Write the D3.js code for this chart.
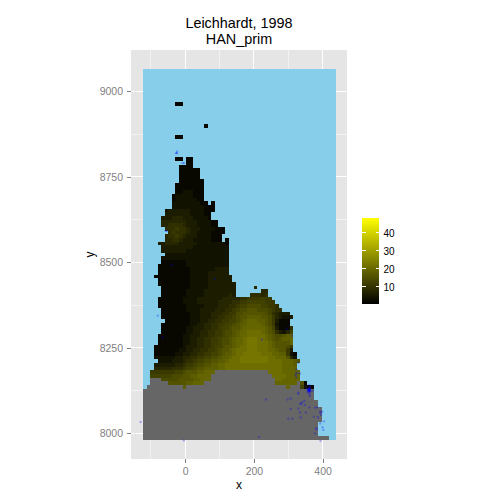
<!DOCTYPE html>
<html><head><meta charset="utf-8">
<style>html,body{margin:0;padding:0;background:#fff}svg{display:block}text{font-family:"Liberation Sans",Arial,sans-serif}</style>
<script src="https://cdn.jsdelivr.net/npm/d3@7"></script>
</head><body><svg id="c" width="500" height="500"></svg>
<script>
const titleLines = ["Leichhardt, 1998","HAN_prim"];
const xMajor=[0,200,400], xMinor=[-100,100,300];
const yMajor=[8000,8250,8500,8750,9000], yMinor=[8125,8375,8625,8875];
const legendTicks=[10,20,30,40];
const valueRange=[0.55,48.3];
const gridOrigin=[-122,9065], gridStep=[10.38,10.74], gridSize=[54,101];
// Each grid row: first land column, then cell codes: base-36 level, # = no data, . = sea
const rowData={
9:[9,"00"],15:[17,"0"],18:[9,"00"],24:[9,"00.00"],25:[12,"00"],26:[10,"0000"],
27:[10,"000000"],28:[10,"000000"],29:[10,"000000"],30:[10,"0000000"],
31:[9,"00000000"],32:[9,"00000000"],33:[9,"00111000"],34:[8,"011111000"],35:[8,"011111100"],
36:[8,"1111111100.0"],37:[8,"111111111000"],38:[6,"12222221111000"],39:[6,"2222222111100"],
40:[5,"22233322211110"],41:[5,"3333333222111100"],42:[5,"3344443222111100"],
43:[6,"44454432221111000"],44:[7,"4544432211110000"],45:[6,"3445432221111000"],46:[6,"3344322211111000.0"],
47:[4,"22333322222111111110"],48:[5,"2222222221111111111"],49:[5,"2222222111111111111"],
50:[6,"111111111111111111"],51:[5,"1111111111111111111"],52:[5,"0000000111111111111"],
53:[4,"00000000111111111111"],54:[4,"00000000011111112222"],55:[4,"00000000011111222222"],
56:[3,"0000000000111112222222"],57:[4,"000000000111112222222"],58:[4,"0000000001111122222222"],
59:[5,"000000001111122222222.....3"],60:[5,"000000011111222222222.......33"],
61:[5,"000000011111222222232....44434"],
62:[4,"00000001111222222233333445555655"],
63:[4,"000000011112222223333445566666555"],
64:[4,"0000000011111222233344566777766554"],
65:[5,"0000000111122223334456778887776544"],
66:[5,"000000001112223334455778888887643222"],
67:[5,"0000000011122233445567889999887532112"],
68:[6,"00000001112233445566789aaa998752000"],
69:[5,"000000001122334455667899aaaa98751000"],
70:[5,"00000001122233445667889aaaaaa98620004"],
71:[5,"0000000112233445567789aabbbba98742136"],
72:[4,"00000001122233445567789aabbbbba987789a"],
73:[4,"0000000112233445567789aabcccbba987899a"],
74:[4,"0000000112233445567789aabcccbbba98888a"],
75:[3,"00000000122233445667889abbcccbbba988875"],
76:[3,"0000000112233445567889abbbcccbbbaa98852"],
77:[3,"0000001122334455667899abbcccccbbbaa99510"],
78:[3,"111111223344556677899abbccccccccbbaaa831"],
79:[4,"1111222344566778899abbbccccccccbbbbaaa98"],
80:[3,"222222334556778899aabbbbbbbbbbbbbbbbaaa9"],
81:[3,"333334445667889999aabbbbbbbbbbbbbbbbaaaa"],
82:[2,"555555566788899aaa###############bbbbaaaaa"],
83:[2,"6666667778899aaaa#################bbbbaaaa"],
84:[2,"###77777888899aaa##################bbaaaaa"],
85:[2,"#####8888899aaa####################aaaaaa#80"],
86:[1,"##########9############################a###6100"],
87:[0,"################################################"],
88:[0,"################################################"],
89:[0,"################################################"],
90:[0,"#################################################"],
91:[0,"#################################################"],
92:[0,"##################################################"],
93:[0,"##################################################"],
94:[0,"##################################################"],
95:[0,"##################################################"],
96:[0,"#################################################"],
97:[0,"#################################################"],
98:[0,"#################################################"],
99:[0,"#################################################"],
100:[0,"####################################################"]
};
const levelValues=[2,3.9,5.7,7.6,9.4,11.2,12.9,14.6,16.2,17.8,19.4,20.9,22.4];
const pointX=[-24,-24,-27,-8,-4,-57,-54,-40,86,-80,-66,-130,-4,215,223,295,311,329,324,327,334,322,324,
329,329,322,235,298,307,341,336,336,347,329,348,361,307,334,351,300,312,336,378,384,393,393,395,399,375,387,404,393,382,382,400,402,378,394,
361,363,361,365,358,363,361,371,353,363,360,356,363,361,363,360,361,359,362,360,361,358,362,360,361];
const pointY=[8824,8819,8819,8790,8790,8592,8592,8493,8452,8344,8280,8033,7979,7989,8274,8306,8285,8206,8187,8177,8175,8175,8163,
8119,8116,8170,8099,8099,8102,8091,8088,8085,8095,8073,8083,8076,8071,8061,8061,8043,8043,8047,8075,8076,8063,8060,8054,8063,8049,8047,8035,8029,8015,8012,8018,8010,8000,7978,
8141,8131,8126,8125,8125,8119,8114,8125,8131,8136,8129,8121,8109,8128,8126,8127,8125,8128,8124,8122,8130,8127,8127,8126,8123];

const panel={l:131,r:347,t:50,b:459};
const x=d3.scaleLinear().domain([-158,471]).range([panel.l,panel.r]);
const y=d3.scaleLinear().domain([7925,9120.6]).range([panel.b,panel.t]);
const color=d3.scaleLinear().domain(valueRange).range(["#000000","#ffff00"]).clamp(true);
const svg=d3.select("#c");

svg.append("rect").attr("x",panel.l).attr("y",panel.t).attr("width",panel.r-panel.l).attr("height",panel.b-panel.t).attr("fill","#e5e5e5");
const grid=svg.append("g").attr("shape-rendering","crispEdges");
grid.selectAll(".mx").data(xMinor).join("line").attr("x1",d=>x(d)).attr("x2",d=>x(d)).attr("y1",panel.t).attr("y2",panel.b).attr("stroke","#f2f2f2");
grid.selectAll(".my").data(yMinor).join("line").attr("y1",d=>y(d)).attr("y2",d=>y(d)).attr("x1",panel.l).attr("x2",panel.r).attr("stroke","#f2f2f2");
grid.selectAll(".Mx").data(xMajor).join("line").attr("x1",d=>x(d)).attr("x2",d=>x(d)).attr("y1",panel.t).attr("y2",panel.b).attr("stroke","#fff");
grid.selectAll(".My").data(yMajor).join("line").attr("y1",d=>y(d)).attr("y2",d=>y(d)).attr("x1",panel.l).attr("x2",panel.r).attr("stroke","#fff");

// Cells
const cells=[];
for(let r=0;r<gridSize[1];r++){
  const row=rowData[r]||[0,""];
  for(let k=0;k<gridSize[0];k++){
    const ch=(k>=row[0]&&k-row[0]<row[1].length)?row[1][k-row[0]]:".";
    cells.push({k,r,ch});
  }
}
const cx=k=>x(gridOrigin[0]+k*gridStep[0]);
const cy=r=>y(gridOrigin[1]-r*gridStep[1]);
const fillOf=c=>c.ch==="."?"#87ceeb":c.ch==="#"?"#666666":color(levelValues[parseInt(c.ch,36)]);
svg.append("g").attr("shape-rendering","crispEdges").selectAll("rect").data(cells).join("rect")
  .attr("x",d=>Math.round(cx(d.k))).attr("y",d=>Math.round(cy(d.r)))
  .attr("width",d=>Math.round(cx(d.k+1))-Math.round(cx(d.k)))
  .attr("height",d=>Math.round(cy(d.r+1))-Math.round(cy(d.r)))
  .attr("fill",fillOf);

svg.append("g").selectAll("circle").data(pointX.map((v,i)=>[v,pointY[i]])).join("circle")
  .attr("cx",d=>x(d[0])).attr("cy",d=>y(d[1])).attr("r",1.2).attr("fill","#0000ff").attr("opacity",0.28);

// Axes
const ax=d3.axisBottom(x).tickValues(xMajor).tickSize(4).tickPadding(5);
const ay=d3.axisLeft(y).tickValues(yMajor).tickFormat(d3.format("d")).tickSize(4).tickPadding(4);
const gx=svg.append("g").attr("transform",`translate(0,${panel.b})`).call(ax);
const gy=svg.append("g").attr("transform",`translate(${panel.l},0)`).call(ay);
[gx,gy].forEach(g=>{g.select(".domain").remove();g.selectAll("line").attr("stroke","#7f7f7f").attr("shape-rendering","crispEdges");
  g.selectAll("text").attr("fill","#7f7f7f").attr("font-size",10.5);});

svg.append("text").attr("x",239).attr("y",489).attr("text-anchor","middle").attr("font-size",12).text("x");
svg.append("text").attr("transform","translate(94,254.5) rotate(-90)").attr("text-anchor","middle").attr("font-size",12).text("y");
svg.selectAll(".t").data(titleLines).join("text").attr("x",239).attr("y",(d,i)=>28+i*16).attr("text-anchor","middle").attr("font-size",14.4).text(d=>d);

// Legend
const leg=d3.scaleLinear().domain(valueRange).range([304,218]);
const legG=svg.append("g").attr("shape-rendering","crispEdges");
const legendVals=d3.range(218,304).map(p=>leg.invert(p+0.5));
legG.selectAll("rect").data(legendVals).join("rect").attr("x",362).attr("width",17).attr("y",d=>Math.floor(leg(d))).attr("height",1).attr("fill",d=>color(d));
legendTicks.forEach(t=>{
  legG.append("line").attr("x1",362).attr("x2",365.5).attr("y1",leg(t)).attr("y2",leg(t)).attr("stroke","#fff");
  legG.append("line").attr("x1",375.5).attr("x2",379).attr("y1",leg(t)).attr("y2",leg(t)).attr("stroke","#fff");
  svg.append("text").attr("x",383.5).attr("y",leg(t)+3.6).attr("font-size",10).text(t);
});
</script></body></html>
